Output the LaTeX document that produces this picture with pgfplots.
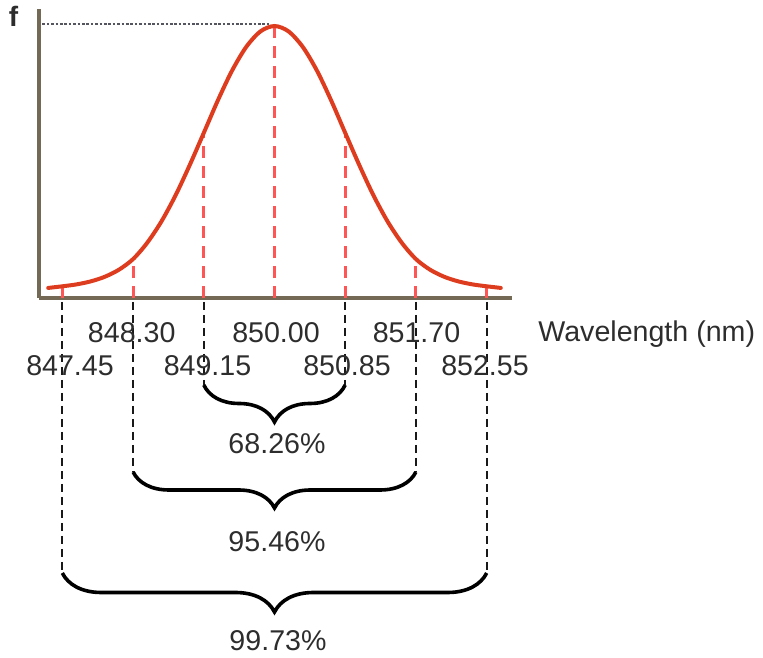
\documentclass[border=0pt]{standalone}
\usepackage{fontspec}
\setmainfont{Liberation Sans}
\usepackage{pgfplots}
\pgfplotsset{compat=1.18}
\usetikzlibrary{decorations.pathreplacing}
\definecolor{curvec}{RGB}{221,60,30}
\definecolor{rdash}{RGB}{255,85,85}
\definecolor{axisc}{RGB}{115,105,85}
\definecolor{txt}{RGB}{45,45,45}
\definecolor{dotc}{RGB}{85,85,95}

\begin{document}
\begin{tikzpicture}
\begin{axis}[
  x=41.6pt, y=136pt,
  xmin=847.1695, xmax=852.855, ymin=0, ymax=1.0625,
  axis x line=bottom, axis y line=left,
  axis line style={-, draw=axisc, line width=1.75pt},
  xtick=\empty, ytick=\empty,
  clip=false,
]
% red dashed sigma lines (mu +- k sigma up to the curve)
\addplot[ycomb, rdash, line width=1.5pt, dash pattern=on 6pt off 4pt] coordinates {
  (847.45,0.043) (848.30,0.143) (849.15,0.607) (850.00,1.000)
  (850.85,0.607) (851.70,0.143) (852.55,0.043)
};
% the distribution curve
\addplot[curvec, line width=2pt, smooth, line cap=round] coordinates {
  (847.28,0.037) (847.45,0.043) (847.62,0.050) (847.79,0.061)
  (847.96,0.078) (848.13,0.104) (848.30,0.143) (848.47,0.203)
  (848.64,0.281) (848.81,0.377) (848.98,0.488) (849.15,0.607)
  (849.32,0.727) (849.49,0.836) (849.66,0.923) (849.83,0.980)
  (850.00,1.000)
  (850.17,0.980) (850.34,0.923) (850.51,0.836) (850.68,0.727)
  (850.85,0.607) (851.02,0.488) (851.19,0.377) (851.36,0.281)
  (851.53,0.203) (851.70,0.143) (851.87,0.104) (852.04,0.078)
  (852.21,0.061) (852.38,0.050) (852.55,0.043) (852.72,0.037)
};
% dotted peak level
\addplot[dotc, line width=1.3pt, dash pattern=on 1.3pt off 0.9pt] coordinates {(847.21,1.007) (849.95,1.007)};
\coordinate (P0) at (axis cs:846.7007,1.0956);
\coordinate (P1) at (axis cs:855.8714,-1.3235);
\end{axis}
\begin{scope}[shift={(P0)}, x=0.5pt, y=-0.5pt]
  \tikzset{lab/.style={anchor=base, text=txt, inner sep=0pt, font=\fontsize{14.3}{17}\selectfont}}
  % black dashed guide lines
  \begin{scope}[black!90, line width=0.85pt, dash pattern=on 4pt off 2.5pt]
    \draw (62.3,302) -- (62.3,573);
    \draw (486.7,302) -- (486.7,573);
    \draw (133.1,302) -- (133.1,472);
    \draw (415.9,302) -- (415.9,472);
    \draw (203.8,302) -- (203.8,385);
    \draw (345.2,302) -- (345.2,385);
  \end{scope}
  % braces
  \draw[black, line width=1.8pt, decorate, decoration={brace, mirror, amplitude=18.5pt}] (203.8,385) -- (345.2,385);
  \draw[black, line width=1.8pt, decorate, decoration={brace, mirror, amplitude=18pt}] (133.1,472) -- (415.9,472);
  \draw[black, line width=1.8pt, decorate, decoration={brace, mirror, amplitude=19.5pt}] (62.3,573) -- (486.7,573);
  % labels
  \node[lab] at (131.7,342.5) {848.30};
  \node[lab] at (276,342.5) {850.00};
  \node[lab] at (416.5,342.5) {851.70};
  \node[lab, anchor=base west] at (538,342) {Wavelength (nm)};
  \node[lab] at (70,376) {847.45};
  \node[lab] at (207.5,376) {849.15};
  \node[lab] at (347,376) {850.85};
  \node[lab] at (485,376) {852.55};
  \node[lab] at (277,454) {68.26\%};
  \node[lab] at (277,552) {95.46\%};
  \node[lab] at (278,651) {99.73\%};
  \node[anchor=base, text=txt, inner sep=0pt, font=\fontsize{14}{16}\selectfont\bfseries] at (13.5,27) {f};
\end{scope}
\pgfresetboundingbox
\path[use as bounding box] (P0) rectangle (P1);
\end{tikzpicture}
\end{document}
